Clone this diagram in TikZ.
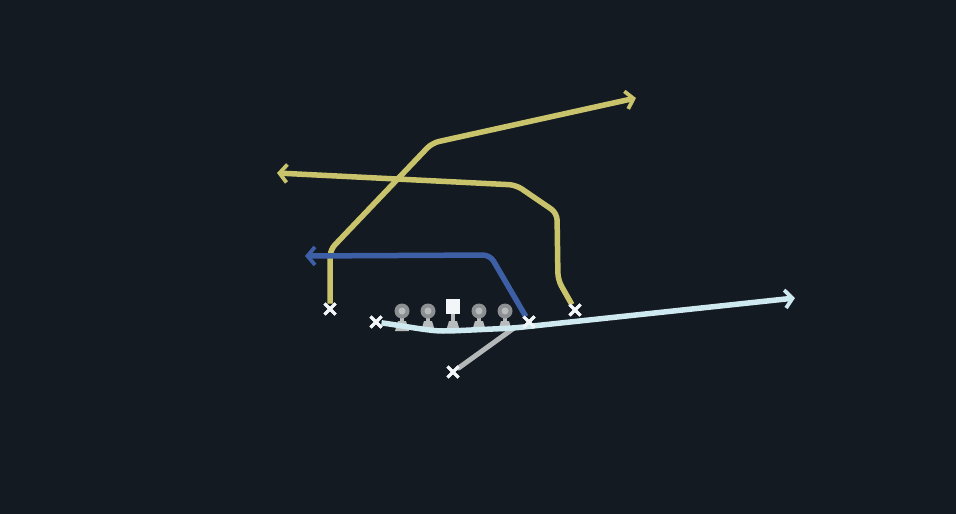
\documentclass[tikz,border=0pt]{standalone}
\usetikzlibrary{arrows.meta,shapes.misc}
\definecolor{bg}{HTML}{141A22}
\definecolor{ylw}{HTML}{C9C46C}
\definecolor{blu}{HTML}{3D5FA5}
\definecolor{lite}{HTML}{CFE9F0}
\definecolor{gry}{HTML}{B4B8B8}
\definecolor{olgray}{HTML}{8C9092}
\definecolor{olstem}{HTML}{B8BCBC}
\definecolor{xwhite}{HTML}{F2F6F8}
\tikzset{
  player/.style={cross out,draw=xwhite,line width=3pt,minimum size=8pt,inner sep=0pt},
  route/.style={line width=5.5pt,rounded corners=7pt,-{Straight Barb[length=7.5pt,width=18pt,line width=3.8pt]}},
  plain/.style={line width=5pt,line cap=round},
  oline/.style={circle,fill=olgray,minimum size=15pt,inner sep=0pt},
  ocenter/.style={rectangle,fill=xwhite,minimum width=14pt,minimum height=15pt,inner sep=0pt},
}
\begin{document}
\begin{tikzpicture}[x=1pt,y=-1pt]
\fill[bg] (0,0) rectangle (956,514);
\useasboundingbox (0,0) rectangle (956,514);
% named coordinates
\coordinate (y1a) at (330,250);
\coordinate (y1b) at (432,143);
\coordinate (y1e) at (636,98);
\coordinate (y2a) at (558,280);
\coordinate (y2b) at (557,213);
\coordinate (y2c) at (516,185);
\coordinate (y2e) at (277,173);
\coordinate (b1a) at (490,255);
\coordinate (b1e) at (305,256);
\coordinate (l1a) at (450,331);
\coordinate (l1b) at (514,328);
\coordinate (l1e) at (795,298);
% offensive line stems and base
\foreach \x in {402,428,479,505}{
  \draw[olstem,line width=4pt] (\x,311) -- (\x,326);
  \fill[olstem] (\x-7,331) -- (\x-4,321) -- (\x+4,321) -- (\x+7,331) -- cycle;
}
\draw[olstem,line width=4pt] (453,306) -- (453,326);
\fill[olstem] (446,331) -- (449,321) -- (457,321) -- (460,331) -- cycle;
% linemen
\node[oline] (o1) at (402,311) {};
\node[oline] (o2) at (428,311) {};
\node[ocenter] (oc) at (453,306) {};
\node[oline] (o4) at (479,311) {};
\node[oline] (o5) at (505,311) {};
\foreach \n in {o1,o2,o4,o5}{
  \fill[olstem] (\n.center) circle (3.5pt);
}
% players
\node[player] (pL) at (330,309) {};
\node[player] (pW) at (376,322) {};
\node[player] (pT) at (529,322) {};
\node[player] (pR) at (575,310) {};
\node[player] (pB) at (453,372) {};
% routes
\draw[route,ylw] (pL) -- (y1a) -- (y1b) -- (y1e);
\draw[route,ylw] (pR) -- (y2a) -- (y2b) -- (y2c) -- (y2e);
\draw[route,blu] (pT) -- (b1a) -- (b1e);
\draw[plain,gry] (pB) -- (l1b);
\draw[route,lite] (pW) .. controls (410,327) and (430,331) .. (l1a) -- (l1b) -- (l1e);
% redraw player marks on top
\foreach \p in {pL,pW,pT,pR,pB}{
  \node[player] at (\p) {};
}
\end{tikzpicture}
\end{document}
